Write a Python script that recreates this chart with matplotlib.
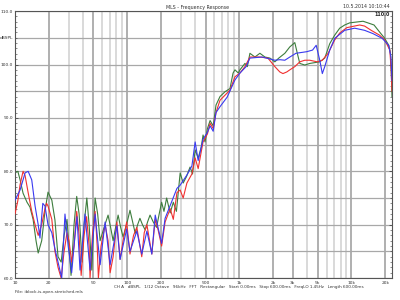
import matplotlib
matplotlib.use("Agg")
import matplotlib.pyplot as plt
from matplotlib.ticker import FixedLocator, NullFormatter

# frequency response readings as (Hz, dBSPL) pairs
green = [(10.0, 79.7), (10.6, 80.0), (11.1, 78.4), (11.8, 75.9), (12.8, 74.2), (13.6, 73.3),
         (14.5, 71.0), (15.4, 67.0), (16.1, 64.7), (17.3, 67.0), (18.5, 72.5), (19.7, 76.1),
         (21.3, 74.6), (22.7, 70.9), (24.2, 64.0), (25.8, 63.0), (27.4, 68.0), (29.1, 71.0),
         (31.6, 60.5), (33.6, 70.0), (35.5, 75.3), (37.3, 72.0), (39.7, 63.0), (41.3, 70.0),
         (43.7, 75.0), (45.8, 70.0), (48.4, 61.5), (50.3, 70.0), (51.8, 75.0), (54.6, 72.0),
         (57.4, 67.0), (62.3, 69.5), (67.6, 71.8), (71.2, 69.5), (75.0, 67.0), (78.9, 69.5),
         (83.1, 71.8), (87.5, 69.5), (92.0, 67.7), (98.8, 70.0), (106, 72.7), (112, 70.5),
         (118, 68.4), (124, 70.0), (130, 71.2), (137, 70.0), (145, 69.0), (152, 70.5),
         (160, 71.8), (171, 70.5), (183, 69.5), (193, 72.0), (203, 74.2), (213, 72.5),
         (225, 75.0), (242, 72.2), (258, 74.2), (275, 72.5), (297, 79.7), (316, 77.8),
         (338, 79.0), (364, 80.8), (383, 79.5), (404, 84.0), (430, 82.5), (458, 84.5),
         (475, 86.8), (495, 85.5), (520, 88.0), (549, 89.5), (585, 88.5), (620, 92.4),
         (673, 94.0), (746, 94.9), (826, 95.5), (880, 98.4), (915, 99.0), (980, 98.4),
         (1014, 99.0), (1123, 100.2), (1180, 99.6), (1244, 102.1), (1378, 101.4),
         (1527, 102.1), (1692, 101.4), (1874, 101.2), (2076, 100.5), (2250, 101.2),
         (2548, 102.1), (2823, 103.3), (3127, 104.1), (3300, 102.0), (3464, 100.2),
         (3838, 99.9), (4252, 100.2), (5218, 100.5), (5781, 101.2), (6405, 103.9),
         (7095, 105.5), (7861, 106.8), (8709, 107.4), (9648, 107.8), (12700, 108.1),
         (14000, 107.8), (15900, 107.4), (17800, 106.1), (19800, 104.9), (21500, 103.6),
         (22300, 102.1), (22700, 98.0), (23000, 94.0)]

red = [(10.0, 72.0), (10.6, 74.5), (11.1, 77.5), (11.8, 80.0), (12.3, 79.2), (13.1, 76.0),
       (14.1, 72.5), (15.1, 70.0), (16.1, 68.0), (17.3, 70.0), (18.5, 73.0), (19.1, 74.0),
       (19.7, 73.5), (21.3, 71.0), (22.7, 65.0), (24.2, 62.0), (25.8, 60.0), (27.4, 65.0),
       (29.1, 68.5), (30.3, 67.0), (32.0, 63.0), (33.6, 66.0), (35.5, 72.5), (37.3, 68.0),
       (38.9, 60.5), (41.3, 68.0), (43.5, 71.5), (45.8, 66.0), (46.7, 60.0), (49.0, 68.0),
       (51.8, 72.5), (54.1, 66.0), (55.4, 60.0), (58.5, 66.0), (63.6, 70.0), (67.6, 67.0),
       (70.5, 61.0), (75.0, 64.0), (81.0, 70.5), (86.5, 63.5), (92.0, 67.0), (99.0, 70.5),
       (106, 64.5), (114, 68.0), (122, 69.5), (135, 64.0), (142, 68.5), (150, 70.0),
       (166, 64.5), (178, 71.0), (189, 69.0), (203, 66.0), (218, 70.5), (242, 73.0),
       (258, 71.0), (278, 76.0), (297, 76.5), (316, 75.0), (341, 77.8), (378, 79.5),
       (404, 82.5), (430, 80.5), (475, 85.5), (520, 87.0), (549, 89.0), (585, 88.0),
       (620, 91.0), (673, 93.3), (826, 95.2), (915, 97.7), (1014, 98.4), (1123, 99.6),
       (1244, 101.4), (1527, 101.4), (1800, 101.2), (2076, 99.6), (2300, 98.6),
       (2450, 98.3), (2650, 98.6), (2823, 99.0), (3127, 99.6), (3464, 100.5), (3838, 100.8),
       (4252, 100.8), (4950, 100.5), (5500, 100.8), (6200, 102.1), (7095, 104.6),
       (7861, 105.9), (9100, 106.9), (11840, 107.4), (13100, 107.2), (15000, 106.4),
       (17800, 105.5), (19800, 104.6), (22000, 102.7), (22600, 99.0), (23000, 95.0)]

blue = [(10.0, 74.6), (11.1, 76.5), (12.3, 79.7), (13.1, 80.0), (14.1, 78.4), (15.1, 73.5),
        (16.1, 70.0), (16.7, 67.5), (17.3, 71.5), (17.7, 74.0), (18.5, 73.5), (19.7, 70.0),
        (21.3, 68.5), (22.7, 65.5), (24.2, 63.0), (26.1, 60.0), (27.9, 72.0), (29.8, 66.0),
        (32.0, 61.0), (34.3, 68.0), (35.7, 71.5), (38.0, 61.5), (42.1, 72.0), (46.7, 61.5),
        (51.8, 72.0), (57.4, 62.5), (63.6, 70.5), (70.5, 62.5), (81.0, 69.8), (86.5, 63.5),
        (99.0, 69.2), (106, 65.0), (122, 68.8), (135, 64.5), (150, 68.8), (166, 64.5),
        (178, 71.8), (203, 66.5), (218, 71.2), (242, 73.6), (278, 76.8), (297, 77.4),
        (341, 79.3), (378, 81.0), (404, 85.5), (430, 82.0), (475, 86.0), (517, 87.2),
        (549, 88.5), (585, 87.5), (620, 91.0), (673, 92.1), (780, 93.9), (915, 97.1),
        (1014, 98.4), (1150, 99.6), (1244, 101.2), (1600, 101.4), (2076, 100.8),
        (2300, 100.9), (2548, 100.8), (2823, 101.4), (3200, 102.1), (4000, 102.4),
        (4500, 102.7), (4850, 103.6), (5218, 100.8), (5500, 98.3), (5781, 99.6),
        (6405, 102.7), (7095, 104.9), (8709, 106.4), (10690, 106.8), (13100, 106.4),
        (15500, 105.8), (18800, 104.9), (21500, 103.6), (22500, 101.4), (23000, 97.0)]

xtick_vals = [10, 20, 50, 100, 200, 500, 1000, 2000, 3000, 5000, 10000, 20000]
xtick_text = ["10", "20", "50", "100", "200", "500", "1k", "2k", "3k", "5k", "10k", "20k"]
ytick_vals = [60, 70, 80, 90, 100, 110]

fig = plt.figure(figsize=(4, 3), dpi=100)
ax = fig.add_axes([0.0375, 0.073, 0.9425, 0.89])

# log grid: every 1..9 x decade
for dec in [10, 100, 1000, 10000]:
    for m in range(1, 10):
        f = dec * m
        if f > 23000:
            continue
        col = "#9a9a9a" if f in xtick_vals else "#cfcfcf"
        ax.axvline(f, color=col, lw=1.1, zorder=0)
for db in range(60, 111, 5):
    ax.axhline(db, color="#a8a8a8", lw=0.9, zorder=0)

for pts, col, z in [(green, "#3d7d3d", 2), (red, "#f03030", 3), (blue, "#3a3af0", 4)]:
    fx = [p[0] for p in pts]
    fy = [p[1] for p in pts]
    ax.plot(fx, fy, color=col, lw=0.8, zorder=z)

ax.set_xscale("log")
ax.set_xlim(10, 23000)
ax.set_ylim(60, 110)

ax.xaxis.set_major_locator(FixedLocator(xtick_vals))
ax.set_xticklabels(xtick_text)
ax.xaxis.set_minor_formatter(NullFormatter())
ax.tick_params(axis="x", which="both", length=0, labelsize=3.2, pad=2, colors="#333333")

ax.yaxis.set_major_locator(FixedLocator(ytick_vals))
ax.yaxis.set_minor_locator(FixedLocator(list(range(60, 111))))
ax.set_yticklabels(["%.1f" % v for v in ytick_vals])
ax.tick_params(axis="y", which="both", direction="in", right=True, labelsize=3.2,
               pad=1.5, colors="#333333")
ax.tick_params(axis="y", which="major", length=2.5, width=0.5)
ax.tick_params(axis="y", which="minor", length=1.5, width=0.4)

for s in ax.spines.values():
    s.set_color("#555555")
    s.set_linewidth(0.8)

ax.text(-0.005, 0.9, "dBSPL", transform=ax.transAxes, ha="right", va="center",
        fontsize=3.2, color="#333333")
ax.text(0.995, 0.995, "110.0", transform=ax.transAxes, ha="right", va="top",
        fontsize=3.4, color="#222222", fontweight="bold")

fig.text(0.495, 0.985, "MLS - Frequency Response", ha="center", va="top",
         fontsize=3.4, color="#333333")
fig.text(0.975, 0.985, "10.5.2014 10:10:44", ha="right", va="top",
         fontsize=3.4, color="#333333")
fig.text(0.285, 0.043, "CH A   dBSPL   1/12 Octave   96kHz   FFT   Rectangular   "
         "Start 0.00ms   Stop 600.00ms   FreqLO 1.45Hz   Length 600.00ms",
         ha="left", va="center", fontsize=3.0, color="#333333")
fig.text(0.0375, 0.025, "File: iblock-is-open-stretched.mls", ha="left", va="center",
         fontsize=3.0, color="#333333")

fig.savefig("out.png", dpi=100)
